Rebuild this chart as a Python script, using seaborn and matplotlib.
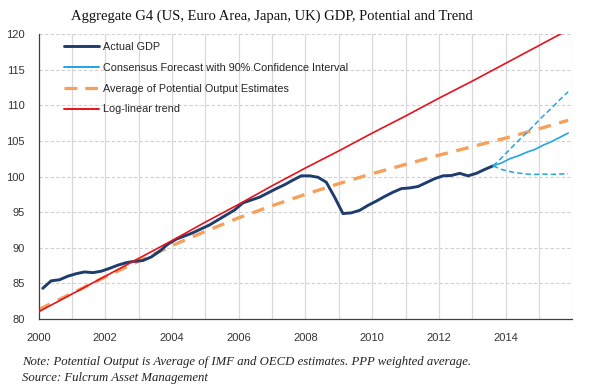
import numpy as np
import pandas as pd
import matplotlib
matplotlib.use("Agg")
import matplotlib.pyplot as plt
import seaborn as sns
from matplotlib.lines import Line2D

# ---------------- data ----------------
title = "Aggregate G4 (US, Euro Area, Japan, UK) GDP, Potential and Trend"
note1 = "Note: Potential Output is Average of IMF and OECD estimates. PPP weighted average."
note2 = "Source: Fulcrum Asset Management"

labels = ["Actual GDP", "Consensus Forecast with 90% Confidence Interval",
          "Average of Potential Output Estimates", "Log-linear trend"]

# quarterly, mid-quarter positions 2000Q1 .. 2013Q3
actual_x = [2000.125 + 0.25 * i for i in range(55)]
actual_y = [84.3, 85.35, 85.5, 86.0, 86.35, 86.6, 86.5, 86.7,
            87.1, 87.55, 87.9, 88.1, 88.2, 88.7, 89.5, 90.5,
            91.2, 91.65, 92.1, 92.65, 93.2, 93.9, 94.6, 95.3,
            96.3, 96.7, 97.1, 97.7, 98.3, 98.85, 99.5, 100.1,
            100.1, 99.9, 99.2, 97.1, 94.8, 94.9, 95.25, 95.95,
            96.55, 97.2, 97.8, 98.3, 98.4, 98.6, 99.15, 99.7,
            100.1, 100.15, 100.45, 100.1, 100.45, 101.0, 101.5]

fc_x = [2013.625, 2013.875, 2014.125, 2014.375, 2014.625,
        2014.875, 2015.125, 2015.375, 2015.625, 2015.875]
fc_mid = [101.5, 101.9, 102.5, 102.9, 103.4, 103.8, 104.4, 104.9, 105.5, 106.1]
fc_hi = [101.5, 102.6, 103.8, 105.0, 106.1, 107.3, 108.5, 109.6, 110.8, 111.9]
fc_lo = [101.5, 101.0, 100.7, 100.5, 100.35, 100.3, 100.35, 100.3, 100.35, 100.4]

pot_x = [2000, 2001, 2002, 2003, 2004, 2005, 2006, 2007, 2008,
         2009, 2010, 2011, 2012, 2013, 2014, 2015, 2015.875]
pot_y = [81.3, 83.6, 85.9, 88.1, 90.3, 92.3, 94.2, 95.9, 97.5,
         99.0, 100.4, 101.7, 103.0, 104.2, 105.4, 106.7, 107.9]

trend_x = [2000, 2001, 2002, 2003, 2004, 2005, 2006, 2007, 2008,
           2009, 2010, 2011, 2012, 2013, 2014, 2015, 2016]
trend_y = [81.0, 83.5, 86.0, 88.5, 91.0, 93.6, 96.1, 98.7, 101.2,
           103.6, 106.1, 108.5, 111.0, 113.4, 115.9, 118.4, 120.9]

x_ticks = [2000, 2002, 2004, 2006, 2008, 2010, 2012, 2014]
y_ticks = [80, 85, 90, 95, 100, 105, 110, 115, 120]

# ---------------- style ----------------
sns.set_style("white")
plt.rcParams["font.family"] = ["Liberation Sans", "DejaVu Sans"]

c_actual = "#1F3C6E"
c_fc = "#22A6E0"
c_pot = "#F5A15C"
c_trend = "#E8111B"

fig = plt.figure(figsize=(5.9, 3.88), dpi=100)
ax = fig.add_axes([0.0654, 0.178, 0.9046, 0.734])

def line(x, y, **kw):
    sns.lineplot(x=x, y=y, ax=ax, estimator=None, sort=False, legend=False, **kw)

line(pot_x, pot_y, color=c_pot, lw=2.4, zorder=2)
ax.lines[-1].set_dashes([3.8, 2.6])
line(actual_x, actual_y, color=c_actual, lw=2.1, zorder=3)
line(trend_x, trend_y, color=c_trend, lw=1.2, zorder=4)
line(fc_x, fc_hi, color=c_fc, lw=1.1, zorder=3)
ax.lines[-1].set_dashes([3.5, 2])
line(fc_x, fc_lo, color=c_fc, lw=1.1, zorder=3)
ax.lines[-1].set_dashes([3.5, 2])
line(fc_x, fc_mid, color=c_fc, lw=1.2, zorder=3)

ax.set_xlim(2000, 2016)
ax.set_ylim(80, 120)
ax.set_xticks(x_ticks)
ax.set_xticklabels([str(t) for t in x_ticks])
ax.set_xticks(np.arange(2000, 2016.01, 0.5), minor=True)
ax.set_yticks(y_ticks)
ax.set_yticklabels([str(t) for t in y_ticks])
ax.set_xlabel("")
ax.set_ylabel("")

# grid
for yr in range(2001, 2017):
    ax.axvline(yr, color="#D9D9D9", lw=0.9, zorder=0)
for v in y_ticks[1:]:
    ax.axhline(v, color="#D0D0D0", lw=0.8, ls=(0, (3, 2)), zorder=0)

for s in ["top", "right"]:
    ax.spines[s].set_visible(False)
for s in ["left", "bottom"]:
    ax.spines[s].set_color("#404040")
    ax.spines[s].set_linewidth(0.9)

ax.tick_params(axis="x", which="both", direction="in", length=3.5, width=0.8,
               color="#404040", labelsize=8, labelcolor="#333333", pad=10)
ax.tick_params(axis="y", which="both", direction="in", length=3, width=0.8,
               color="#404040", labelsize=8, labelcolor="#333333", pad=10)

handles = [
    Line2D([], [], color=c_actual, lw=2.1),
    Line2D([], [], color=c_fc, lw=1.4),
    Line2D([], [], color=c_pot, lw=2.3, dashes=[4, 2.5]),
    Line2D([], [], color=c_trend, lw=1.4),
]
fig.legend(handles, labels, loc="upper left", bbox_to_anchor=(0.108, 0.892),
           frameon=False, fontsize=7.8, handlelength=3.3, handletextpad=0.3,
           labelspacing=1.0, borderpad=0, borderaxespad=0)

fig.text(0.46, 0.958, title, ha="center", va="center",
         family=["Liberation Serif", "DejaVu Serif"], fontsize=10.5, color="#111111")
fig.text(0.037, 0.067, note1, ha="left", va="center", style="italic",
         family=["Liberation Serif", "DejaVu Serif"], fontsize=9.2, color="#222222")
fig.text(0.037, 0.026, note2, ha="left", va="center", style="italic",
         family=["Liberation Serif", "DejaVu Serif"], fontsize=9.2, color="#222222")

fig.savefig("out.png", dpi=100)
